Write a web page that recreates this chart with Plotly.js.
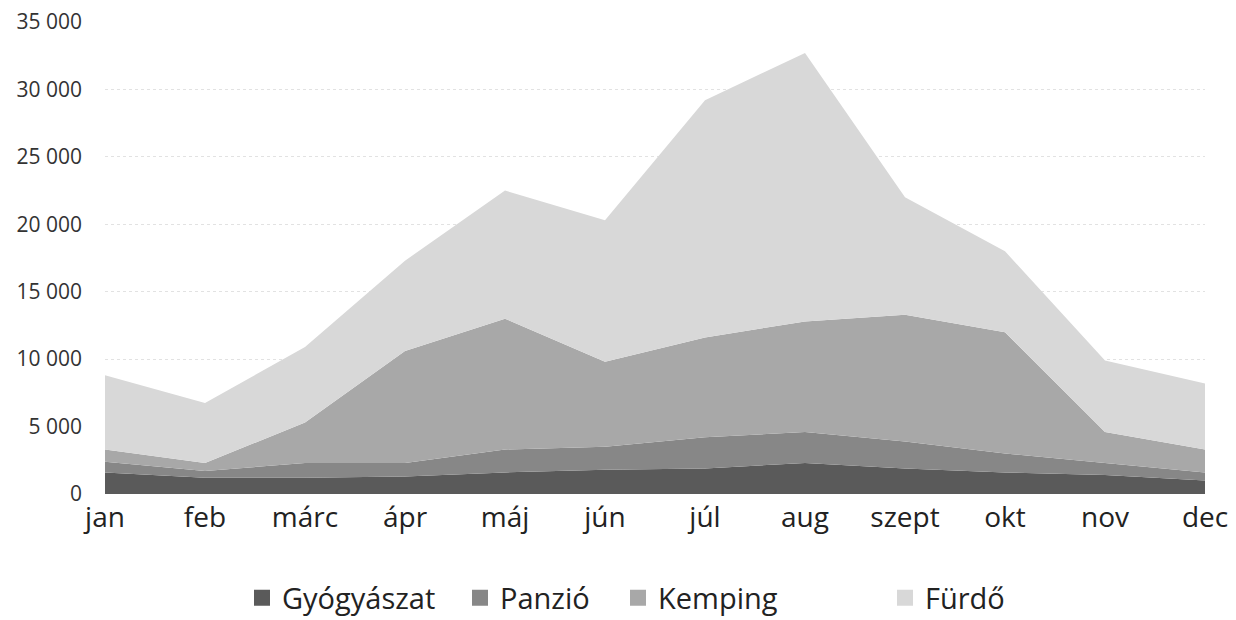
<!DOCTYPE html>
<html>
<head>
<meta charset="utf-8">
<script src="https://cdn.plot.ly/plotly-3.0.1.min.js"></script>
<style>html,body{margin:0;padding:0;background:#fff;}#chart{width:1236px;height:620px;}</style>
</head>
<body>
<div id="chart"></div>
<script>
const months = ["jan","feb","márc","ápr","máj","jún","júl","aug","szept","okt","nov","dec"];
const seriesNames = ["Gyógyászat","Panzió","Kemping","Fürdő"];
const gyogyaszat = [1600,1200,1200,1300,1600,1800,1900,2300,1900,1600,1400,1000];
const panzio     = [ 800, 500,1100,1000,1700,1700,2300,2300,2000,1400, 900, 600];
const kemping    = [ 900, 600,3000,8300,9700,6300,7400,8200,9400,9000,2300,1700];
const furdo      = [5500,4450,5600,6700,9500,10500,17600,19900,8700,6000,5300,4900];
const yTicks = [0,5000,10000,15000,20000,25000,30000,35000];

const values = [gyogyaszat, panzio, kemping, furdo];
const fills = ["#5a5a5a","#878787","#a8a8a8","#d8d8d8"];
const legendIds = ["legend","legend2","legend3","legend4"];
const legendCenters = [262, 480, 638, 905];

const traces = values.map((v,i)=>({
  type:"scatter", mode:"lines", x:months, y:v, name:seriesNames[i],
  stackgroup:"one", line:{width:0, color:fills[i]}, fillcolor:fills[i],
  hoverinfo:"skip", showlegend:false
}));
seriesNames.forEach((n,i)=>traces.push({
  type:"scatter", mode:"markers", x:[null], y:[null], name:n, legend:legendIds[i],
  marker:{symbol:"square", size:17, color:fills[i]}, showlegend:true, hoverinfo:"skip"
}));

const layout = {
  width:1236, height:620,
  margin:{l:105, r:31, t:22, b:126, autoexpand:false},
  paper_bgcolor:"#fff", plot_bgcolor:"#fff",
  separators:", ",
  font:{family:"'Open Sans', sans-serif", color:"#222"},
  showlegend:true,
  xaxis:{type:"category", range:[0,11], showgrid:false, zeroline:false, showline:false,
    ticks:"", tickfont:{size:28, color:"#222"}, ticklabelstandoff:4, fixedrange:true},
  yaxis:{range:[0,35000], tickvals:yTicks, tickformat:",d", showgrid:true,
    gridcolor:"#e2e2e2", griddash:"dot", gridwidth:1, zeroline:false, showline:false,
    ticks:"", tickfont:{size:21, color:"#333"}, ticklabelstandoff:22, fixedrange:true}
};
legendIds.forEach((id,i)=>{
  layout[id] = {orientation:"h", xref:"container", yref:"container",
    x:(legendCenters[i]-20)/1236, xanchor:"left", y:(620-598)/620, yanchor:"middle",
    font:{size:29, color:"#222"}, itemwidth:30, bgcolor:"rgba(0,0,0,0)"};
});

Plotly.newPlot("chart", traces, layout, {displayModeBar:false, staticPlot:true});
</script>
</body>
</html>
